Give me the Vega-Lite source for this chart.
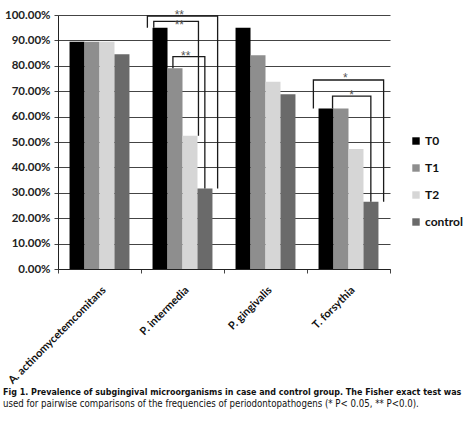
{
  "$schema": "https://vega.github.io/schema/vega-lite/v6.json",
  "autosize": "none",
  "width": 332,
  "height": 254,
  "padding": {"left": 58, "top": 15, "right": 81, "bottom": 154},
  "background": "white",
  "datasets": {
    "bars": [
      {"organism": "A. actinomycetemcomitans", "group": "T0", "value": 0.895},
      {"organism": "A. actinomycetemcomitans", "group": "T1", "value": 0.895},
      {"organism": "A. actinomycetemcomitans", "group": "T2", "value": 0.895},
      {"organism": "A. actinomycetemcomitans", "group": "control", "value": 0.845},
      {"organism": "P. intermedia", "group": "T0", "value": 0.95},
      {"organism": "P. intermedia", "group": "T1", "value": 0.79},
      {"organism": "P. intermedia", "group": "T2", "value": 0.525},
      {"organism": "P. intermedia", "group": "control", "value": 0.317},
      {"organism": "P. gingivalis", "group": "T0", "value": 0.95},
      {"organism": "P. gingivalis", "group": "T1", "value": 0.842},
      {"organism": "P. gingivalis", "group": "T2", "value": 0.737},
      {"organism": "P. gingivalis", "group": "control", "value": 0.688},
      {"organism": "T. forsythia", "group": "T0", "value": 0.632},
      {"organism": "T. forsythia", "group": "T1", "value": 0.632},
      {"organism": "T. forsythia", "group": "T2", "value": 0.472},
      {"organism": "T. forsythia", "group": "control", "value": 0.265}
    ],
    "brackets": [
      {"b": "a", "organism": "P. intermedia", "pos": "T0L", "value": 0.95, "seq": 1},
      {"b": "a", "organism": "P. intermedia", "pos": "T0L", "value": 0.996, "seq": 2},
      {"b": "a", "organism": "P. intermedia", "pos": "cR", "value": 0.996, "seq": 3},
      {"b": "a", "organism": "P. intermedia", "pos": "cR", "value": 0.317, "seq": 4},
      {"b": "b", "organism": "P. intermedia", "pos": "T0C", "value": 0.95, "seq": 1},
      {"b": "b", "organism": "P. intermedia", "pos": "T0C", "value": 0.975, "seq": 2},
      {"b": "b", "organism": "P. intermedia", "pos": "T2R", "value": 0.975, "seq": 3},
      {"b": "b", "organism": "P. intermedia", "pos": "T2R", "value": 0.525, "seq": 4},
      {"b": "c", "organism": "P. intermedia", "pos": "T1C", "value": 0.79, "seq": 1},
      {"b": "c", "organism": "P. intermedia", "pos": "T1C", "value": 0.836, "seq": 2},
      {"b": "c", "organism": "P. intermedia", "pos": "cL", "value": 0.836, "seq": 3},
      {"b": "c", "organism": "P. intermedia", "pos": "cL", "value": 0.317, "seq": 4},
      {"b": "d", "organism": "T. forsythia", "pos": "T0L", "value": 0.632, "seq": 1},
      {"b": "d", "organism": "T. forsythia", "pos": "T0L", "value": 0.744, "seq": 2},
      {"b": "d", "organism": "T. forsythia", "pos": "cR", "value": 0.744, "seq": 3},
      {"b": "d", "organism": "T. forsythia", "pos": "cR", "value": 0.265, "seq": 4},
      {"b": "e", "organism": "T. forsythia", "pos": "T1L", "value": 0.632, "seq": 1},
      {"b": "e", "organism": "T. forsythia", "pos": "T1L", "value": 0.681, "seq": 2},
      {"b": "e", "organism": "T. forsythia", "pos": "cL", "value": 0.681, "seq": 3},
      {"b": "e", "organism": "T. forsythia", "pos": "cL", "value": 0.265, "seq": 4}
    ],
    "stars": [
      {"organism": "P. intermedia", "pos": "T1R", "value": 1.017, "label": "**"},
      {"organism": "P. intermedia", "pos": "T1R", "value": 0.977, "label": "**"},
      {"organism": "P. intermedia", "pos": "T2L", "value": 0.855, "label": "**"},
      {"organism": "T. forsythia", "pos": "T1R", "value": 0.768, "label": "*"},
      {"organism": "T. forsythia", "pos": "T2L", "value": 0.701, "label": "*"}
    ]
  },
  "title": {
    "text": "Fig 1. Prevalence of subgingival microorganisms in case and control group. The Fisher exact test was",
    "subtitle": "used for pairwise comparisons of the frequencies of periodontopathogens (* P< 0.05, ** P<0.0).",
    "orient": "bottom",
    "anchor": "start",
    "frame": "group",
    "dx": -55,
    "offset": 3,
    "font": "Liberation Sans Narrow, DejaVu Sans Condensed, Liberation Sans",
    "fontSize": 8.9,
    "fontWeight": "bold",
    "color": "#111",
    "subtitleFont": "Liberation Sans Narrow, DejaVu Sans Condensed, Liberation Sans",
    "subtitleFontSize": 9.6,
    "subtitleColor": "#111",
    "subtitlePadding": 2
  },
  "config": {
    "view": {"stroke": null},
    "axis": {"labelFont": "Lato", "labelFontWeight": "bold", "labelColor": "#222"}
  },
  "resolve": {"scale": {"xOffset": "independent"}},
  "encoding": {
    "x": {
      "field": "organism",
      "type": "nominal",
      "sort": null,
      "scale": {"paddingInner": 0, "paddingOuter": 0},
      "axis": {
        "title": null,
        "labelAngle": -45,
        "labelFont": "Lato",
        "labelFontWeight": "bold",
        "labelFontSize": 11,
        "labelColor": "#111",
        "tickBand": "extent",
        "tickSize": 4,
        "tickColor": "#444",
        "domainColor": "#222",
        "labelPadding": 11
      }
    },
    "y": {
      "field": "value",
      "type": "quantitative",
      "scale": {"domain": [0, 1], "nice": false},
      "axis": {
        "title": null,
        "format": ".2%",
        "values": [0, 0.1, 0.2, 0.3, 0.4, 0.5, 0.6, 0.7, 0.8, 0.9, 1],
        "labelOverlap": false,
        "grid": true,
        "gridColor": "#444444",
        "gridWidth": 1.2,
        "gridOpacity": 1,
        "labelFont": "Lato",
        "labelFontWeight": "bold",
        "labelFontSize": 11.5,
        "tickSize": 4,
        "tickColor": "#444",
        "domainColor": "#222",
        "labelPadding": 4
      }
    }
  },
  "layer": [
    {
      "data": {"name": "bars"},
      "mark": {"type": "bar"},
      "encoding": {
        "xOffset": {
          "field": "group",
          "type": "nominal",
          "scale": {"domain": ["T0", "T1", "T2", "control"], "paddingInner": 0, "paddingOuter": 0.77}
        },
        "color": {
          "field": "group",
          "type": "nominal",
          "scale": {"domain": ["T0", "T1", "T2", "control"], "range": ["#000000", "#8e8e8e", "#d6d6d6", "#6a6a6a"]},
          "legend": {
            "title": null,
            "orient": "none",
            "legendX": 352,
            "legendY": 120,
            "symbolType": "square",
            "symbolSize": 55,
            "symbolStrokeWidth": 0,
            "labelFont": "Lato",
            "labelFontWeight": "bold",
            "labelFontSize": 12,
            "labelColor": "#111",
            "rowPadding": 15,
            "labelOffset": 3
          }
        }
      }
    },
    {
      "data": {"name": "brackets"},
      "mark": {"type": "line", "color": "#1a1a1a", "strokeWidth": 1.3},
      "encoding": {
        "xOffset": {
          "field": "pos",
          "type": "nominal",
          "scale": {"domain": ["T0L", "T0C", "T0R", "T1L", "T1C", "T1R", "T2L", "T2C", "T2R", "cL", "cC", "cR"], "paddingInner": 0, "paddingOuter": 2.3}
        },
        "detail": {"field": "b", "type": "nominal"},
        "order": {"field": "seq", "type": "quantitative"}
      }
    },
    {
      "data": {"name": "stars"},
      "mark": {"type": "text", "color": "#555", "fontSize": 12, "font": "Liberation Sans", "baseline": "middle", "dy": 4},
      "encoding": {
        "xOffset": {
          "field": "pos",
          "type": "nominal",
          "scale": {"domain": ["T0L", "T0C", "T0R", "T1L", "T1C", "T1R", "T2L", "T2C", "T2R", "cL", "cC", "cR"], "paddingInner": 0, "paddingOuter": 2.3}
        },
        "text": {"field": "label"}
      }
    }
  ]
}
